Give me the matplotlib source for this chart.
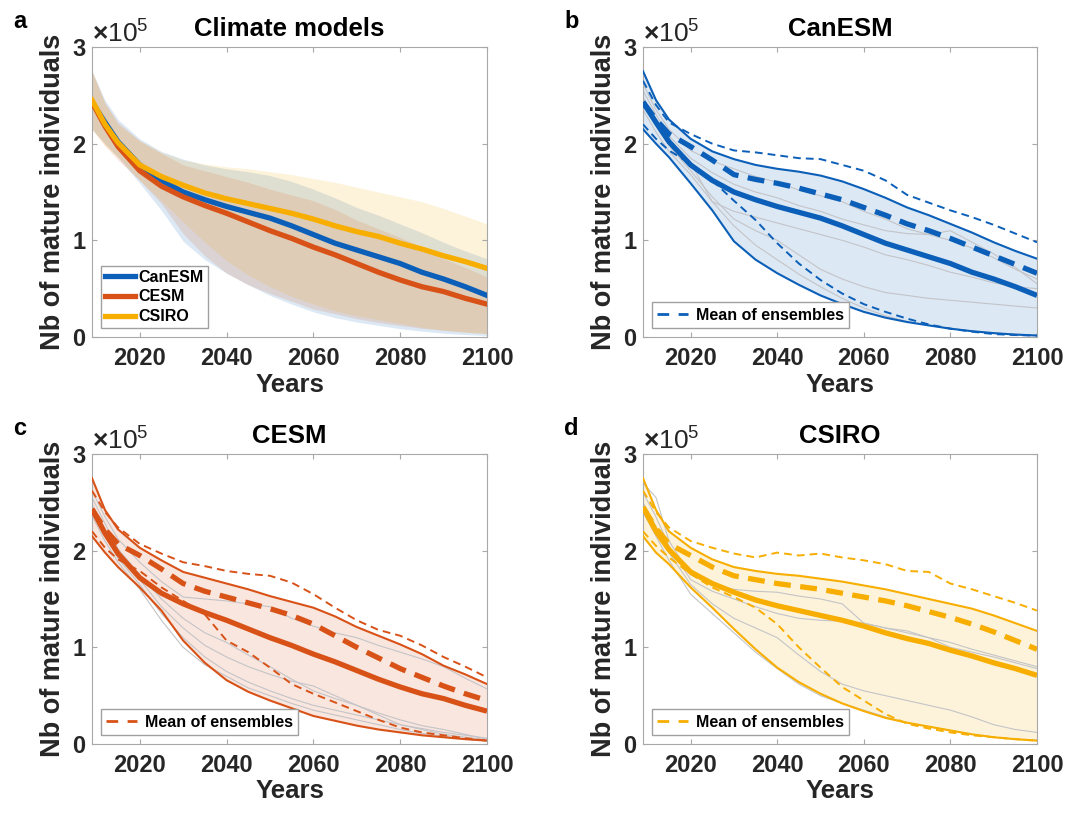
import matplotlib.pyplot as plt
import numpy as np
from matplotlib.lines import Line2D
from matplotlib.ticker import ScalarFormatter

plt.rcParams['font.family'] = ['Liberation Sans', 'DejaVu Sans']
plt.rcParams['font.weight'] = 'bold'
plt.rcParams['axes.labelweight'] = 'bold'
plt.rcParams['axes.titleweight'] = 'bold'
plt.rcParams['mathtext.fontset'] = 'custom'
plt.rcParams['mathtext.rm'] = 'Liberation Sans'

SCALE = 1e5

years = [2009, 2012, 2015, 2020, 2025, 2030, 2035, 2040, 2045, 2050,
         2055, 2060, 2065, 2070, 2075, 2080, 2085, 2090, 2095, 2100]

# CanESM (values x 1e5)
canesm_mean = [2.43, 2.22, 2.02, 1.78, 1.62, 1.50, 1.42, 1.35, 1.29, 1.23,
               1.15, 1.06, 0.97, 0.90, 0.83, 0.76, 0.67, 0.60, 0.52, 0.43]
canesm_upper = [2.75, 2.45, 2.25, 2.05, 1.92, 1.84, 1.78, 1.74, 1.71, 1.67,
                1.61, 1.53, 1.44, 1.34, 1.26, 1.17, 1.08, 0.98, 0.89, 0.81]
canesm_lower = [2.15, 2.00, 1.86, 1.59, 1.31, 0.99, 0.80, 0.66, 0.54, 0.43,
                0.34, 0.26, 0.20, 0.155, 0.12, 0.086, 0.06, 0.04, 0.025, 0.015]
canesm_ens = [2.43, 2.25, 2.10, 1.97, 1.83, 1.68, 1.63, 1.59, 1.54, 1.48,
              1.42, 1.34, 1.26, 1.17, 1.10, 1.02, 0.93, 0.84, 0.75, 0.66]
canesm_ens_hi = [2.65, 2.40, 2.22, 2.10, 2.00, 1.93, 1.91, 1.88, 1.85, 1.84,
                 1.78, 1.72, 1.62, 1.47, 1.39, 1.31, 1.24, 1.16, 1.07, 0.98]
canesm_ens_lo = [2.20, 2.05, 1.93, 1.79, 1.62, 1.41, 1.21, 0.97, 0.76, 0.59,
                 0.45, 0.34, 0.26, 0.19, 0.13, 0.086, 0.055, 0.03, 0.02, 0.015]
canesm_members = [
    [2.62, 2.35, 2.15, 1.93, 1.82, 1.74, 1.66, 1.60, 1.52, 1.46,
     1.40, 1.30, 1.22, 1.12, 1.06, 1.00, 0.92, 0.82, 0.70, 0.60],
    [2.55, 2.30, 2.08, 1.85, 1.70, 1.58, 1.50, 1.44, 1.36, 1.30,
     1.22, 1.16, 1.10, 1.07, 1.06, 1.10, 0.98, 0.86, 0.72, 0.55],
    [2.48, 2.25, 2.02, 1.80, 1.40, 1.30, 1.24, 1.18, 1.12, 1.06,
     1.00, 0.93, 0.85, 0.80, 0.74, 0.67, 0.62, 0.56, 0.52, 0.50],
    [2.42, 2.18, 1.98, 1.72, 1.45, 1.22, 1.10, 1.00, 0.85, 0.70,
     0.60, 0.52, 0.46, 0.43, 0.40, 0.38, 0.36, 0.34, 0.32, 0.30],
    [2.35, 2.12, 1.92, 1.68, 1.40, 1.15, 0.95, 0.80, 0.65, 0.52,
     0.40, 0.30, 0.22, 0.16, 0.12, 0.09, 0.06, 0.04, 0.03, 0.02],
]

# CESM
cesm_mean = [2.43, 2.18, 1.97, 1.72, 1.56, 1.45, 1.36, 1.28, 1.19, 1.10,
             1.02, 0.93, 0.85, 0.76, 0.67, 0.59, 0.52, 0.47, 0.40, 0.34]
cesm_upper = [2.75, 2.42, 2.22, 2.03, 1.90, 1.78, 1.72, 1.66, 1.60, 1.53,
              1.47, 1.41, 1.32, 1.21, 1.12, 1.03, 0.93, 0.81, 0.72, 0.62]
cesm_lower = [2.15, 1.98, 1.83, 1.62, 1.38, 1.07, 0.84, 0.66, 0.54, 0.45,
              0.37, 0.29, 0.24, 0.19, 0.15, 0.12, 0.09, 0.07, 0.05, 0.035]
cesm_ens = [2.43, 2.22, 2.07, 1.95, 1.81, 1.66, 1.58, 1.52, 1.46, 1.40,
            1.33, 1.24, 1.12, 1.00, 0.89, 0.78, 0.69, 0.60, 0.52, 0.45]
cesm_ens_hi = [2.62, 2.40, 2.24, 2.07, 1.97, 1.88, 1.84, 1.79, 1.76, 1.74,
               1.67, 1.55, 1.41, 1.28, 1.18, 1.12, 1.02, 0.90, 0.80, 0.69]
cesm_ens_lo = [2.20, 2.03, 1.91, 1.79, 1.62, 1.48, 1.34, 1.07, 0.95, 0.79,
               0.62, 0.52, 0.43, 0.34, 0.25, 0.17, 0.12, 0.09, 0.06, 0.035]
cesm_members = [
    [2.62, 2.35, 2.12, 1.88, 1.68, 1.52, 1.50, 1.48, 1.45, 1.42,
     1.30, 1.22, 1.15, 1.10, 1.02, 0.95, 0.88, 0.80, 0.68, 0.57],
    [2.55, 2.28, 2.02, 1.75, 1.50, 1.30, 1.15, 1.05, 0.92, 0.80,
     0.67, 0.55, 0.47, 0.40, 0.32, 0.25, 0.19, 0.15, 0.10, 0.05],
    [2.48, 2.22, 1.98, 1.70, 1.42, 1.20, 1.02, 0.90, 0.80, 0.72,
     0.65, 0.60, 0.50, 0.40, 0.30, 0.20, 0.16, 0.12, 0.09, 0.06],
    [2.42, 2.16, 1.92, 1.65, 1.35, 1.10, 0.90, 0.75, 0.64, 0.55,
     0.47, 0.40, 0.35, 0.30, 0.25, 0.20, 0.15, 0.10, 0.07, 0.04],
    [2.36, 2.10, 1.88, 1.60, 1.28, 1.00, 0.82, 0.70, 0.58, 0.50,
     0.42, 0.35, 0.30, 0.25, 0.20, 0.15, 0.11, 0.08, 0.05, 0.03],
]

# CSIRO
csiro_mean = [2.45, 2.20, 2.01, 1.78, 1.66, 1.57, 1.49, 1.43, 1.38, 1.33,
              1.28, 1.22, 1.15, 1.09, 1.04, 0.97, 0.91, 0.84, 0.78, 0.71]
csiro_upper = [2.75, 2.42, 2.20, 2.03, 1.91, 1.83, 1.79, 1.76, 1.74, 1.71,
               1.68, 1.64, 1.60, 1.55, 1.50, 1.45, 1.40, 1.33, 1.25, 1.17]
csiro_lower = [2.15, 1.98, 1.86, 1.62, 1.41, 1.19, 0.98, 0.79, 0.64, 0.52,
               0.42, 0.34, 0.27, 0.22, 0.18, 0.14, 0.10, 0.07, 0.05, 0.035]
csiro_ens = [2.45, 2.23, 2.07, 1.95, 1.83, 1.74, 1.70, 1.66, 1.63, 1.60,
             1.56, 1.52, 1.48, 1.43, 1.37, 1.31, 1.24, 1.16, 1.07, 0.98]
csiro_ens_hi = [2.62, 2.40, 2.24, 2.10, 2.03, 1.97, 1.93, 1.98, 1.95, 1.97,
                1.93, 1.90, 1.86, 1.79, 1.78, 1.66, 1.60, 1.53, 1.46, 1.38]
csiro_ens_lo = [2.20, 2.05, 1.93, 1.76, 1.62, 1.52, 1.41, 1.24, 1.00, 0.79,
                0.59, 0.45, 0.31, 0.21, 0.16, 0.12, 0.09, 0.07, 0.05, 0.035]
csiro_members = [
    [2.70, 2.55, 2.10, 1.75, 1.65, 1.60, 1.58, 1.57, 1.53, 1.50,
     1.45, 1.25, 1.20, 1.15, 1.10, 1.05, 0.98, 0.92, 0.86, 0.80],
    [2.60, 2.35, 2.05, 1.70, 1.58, 1.50, 1.42, 1.35, 1.30, 1.28,
     1.27, 1.25, 1.20, 1.17, 1.10, 1.00, 0.95, 0.90, 0.84, 0.78],
    [2.50, 2.25, 1.98, 1.65, 1.45, 1.30, 1.20, 1.10, 0.92, 0.75,
     0.62, 0.55, 0.50, 0.45, 0.40, 0.35, 0.28, 0.20, 0.15, 0.12],
    [2.40, 2.15, 1.90, 1.55, 1.35, 1.15, 0.95, 0.78, 0.62, 0.50,
     0.42, 0.35, 0.28, 0.22, 0.18, 0.14, 0.10, 0.07, 0.05, 0.04],
]

model_names = ['CanESM', 'CESM', 'CSIRO']
model_colors = ['#0b5fb8', '#d85218', '#f7ae00']

SPINE = '#a8a8a8'
TICKTXT = '#262626'
FILL_ALPHA = 0.14


def s(v):
    return np.array(v) * SCALE


def style_axes(ax, title):
    ax.set_xlim(2009, 2100)
    ax.set_ylim(0, 3 * SCALE)
    ax.set_xticks([2020, 2040, 2060, 2080, 2100])
    ax.set_yticks([0, 1 * SCALE, 2 * SCALE, 3 * SCALE])
    fmt = ScalarFormatter(useMathText=True)
    fmt.set_powerlimits((0, 0))
    ax.yaxis.set_major_formatter(fmt)
    off = ax.yaxis.get_offset_text()
    off.set_fontsize(19)
    off.set_fontweight('normal')
    off.set_color(TICKTXT)
    for sp in ax.spines.values():
        sp.set_color(SPINE)
        sp.set_linewidth(0.8)
    ax.tick_params(direction='in', length=3.5, width=0.8, color=SPINE,
                   top=True, right=True, labelsize=17, labelcolor=TICKTXT)
    ax.tick_params(axis='x', pad=7)
    ax.tick_params(axis='y', pad=4)
    ax.set_xlabel('Years', fontsize=18.5, fontweight='bold', color=TICKTXT, labelpad=2)
    ax.set_ylabel('Nb of mature individuals', fontsize=19.5, fontweight='bold',
                  color=TICKTXT, labelpad=4)
    ax.set_title(title, fontsize=18.5, fontweight='bold', pad=8)


def draw_model(ax, color, mean, upper, lower, ens, ens_hi, ens_lo, members):
    ax.fill_between(years, s(lower), s(upper), color=color, alpha=FILL_ALPHA,
                    linewidth=0, zorder=1)
    for m in members:
        ax.plot(years, s(m), color='#c4c4c8', lw=0.8, zorder=2)
    ax.plot(years, s(upper), color=color, lw=1.5, zorder=3)
    ax.plot(years, s(lower), color=color, lw=1.5, zorder=3)
    ax.plot(years, s(ens_hi), color=color, lw=1.4, dashes=(4, 2.6), zorder=4)
    ax.plot(years, s(ens_lo), color=color, lw=1.4, dashes=(4, 2.6), zorder=4)
    ax.plot(years, s(mean), color=color, lw=3.8, zorder=5, solid_capstyle='butt')
    ax.plot(years, s(ens), color=color, lw=3.8, dashes=(3.2, 1.8), zorder=5)
    handle = Line2D([], [], color=color, lw=2, dashes=(4.2, 3.4))
    ax.legend([handle], ['Mean of ensembles'], loc='lower left', fontsize=11.5,
              handlelength=1.9, handletextpad=0.5, borderpad=0.35,
              borderaxespad=0.55, fancybox=False, edgecolor='#a0a0a0',
              framealpha=1)


fig = plt.figure(figsize=(10.88, 8.14), dpi=100)
W, H = 1088, 814
pos = {
    'a': [92 / W, 1 - 337 / H, 395 / W, 290 / H],
    'b': [643 / W, 1 - 337 / H, 394 / W, 290 / H],
    'c': [92 / W, 1 - 744 / H, 395 / W, 290 / H],
    'd': [643 / W, 1 - 744 / H, 394 / W, 290 / H],
}
axes = {k: fig.add_axes(v) for k, v in pos.items()}

all_series = [
    (canesm_mean, canesm_upper, canesm_lower, canesm_ens, canesm_ens_hi, canesm_ens_lo, canesm_members),
    (cesm_mean, cesm_upper, cesm_lower, cesm_ens, cesm_ens_hi, cesm_ens_lo, cesm_members),
    (csiro_mean, csiro_upper, csiro_lower, csiro_ens, csiro_ens_hi, csiro_ens_lo, csiro_members),
]

# panel a: all models together
ax = axes['a']
for (mean, upper, lower, *_), color in zip(all_series, model_colors):
    ax.fill_between(years, s(lower), s(upper), color=color, alpha=FILL_ALPHA,
                    linewidth=0, zorder=1)
for (mean, *_), color, name in zip(all_series, model_colors, model_names):
    ax.plot(years, s(mean), color=color, lw=3.8, label=name, zorder=3)
ax.legend(loc='lower left', fontsize=11.5, handlelength=1.9, handletextpad=0.2,
          labelspacing=0.3, borderpad=0.25, borderaxespad=0.55, fancybox=False,
          edgecolor='#a0a0a0', framealpha=1)
style_axes(ax, 'Climate models')

for key, series, color, name in zip(['b', 'c', 'd'], all_series, model_colors, model_names):
    ax = axes[key]
    draw_model(ax, color, *series)
    style_axes(ax, name)

letter_pos = {'a': (13, 28), 'b': (564, 28), 'c': (13, 435), 'd': (564, 435)}
for k, (x, y) in letter_pos.items():
    fig.text(x / W, 1 - y / H, k, fontsize=17, fontweight='bold', va='baseline')

fig.savefig('out.png', dpi=100)
